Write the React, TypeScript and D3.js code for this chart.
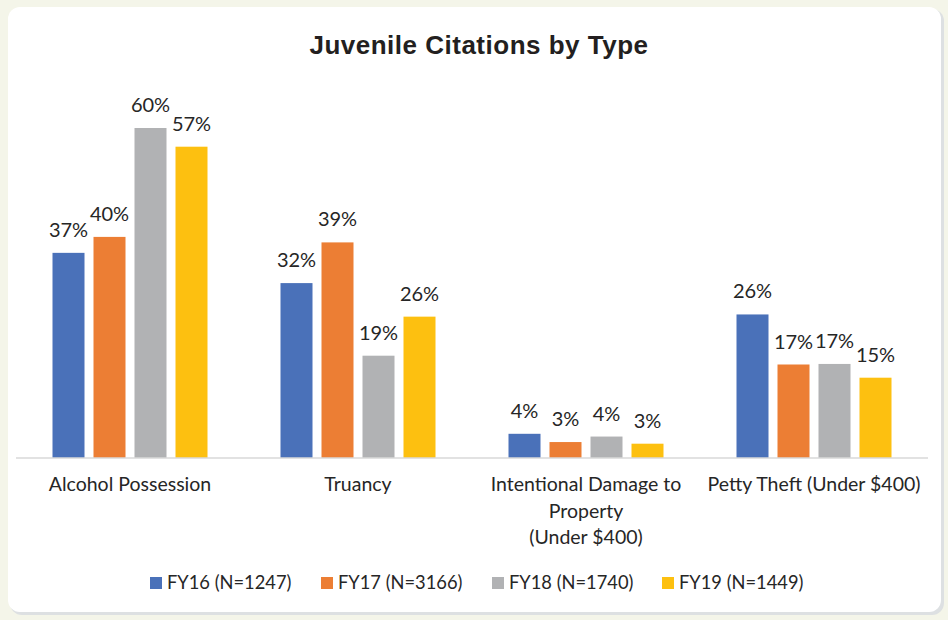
import React from "react";
import * as d3 from "d3";

const categories: string[][] = [
  ["Alcohol Possession"],
  ["Truancy"],
  ["Intentional Damage to", "Property", "(Under $400)"],
  ["Petty Theft (Under $400)"],
];
const seriesNames = ["FY16 (N=1247)", "FY17 (N=3166)", "FY18 (N=1740)", "FY19 (N=1449)"];
const seriesColors = ["#4a71b9", "#ec7e34", "#b1b2b4", "#fdc010"];
const fy16 = [37.3, 31.8, 4.4, 26.1];
const fy17 = [40.2, 39.2, 2.9, 17.0];
const fy18 = [60.0, 18.6, 3.9, 17.1];
const fy19 = [56.6, 25.7, 2.6, 14.6];
const seriesValues = [fy16, fy17, fy18, fy19];

const W = 948;
const H = 620;
const FONT = "Lato, 'Open Sans', sans-serif";

export default function App() {
  const x0 = d3.scaleBand<number>().domain(d3.range(categories.length)).range([16, 928]).padding(0);
  const y = d3.scaleLinear().domain([0, 70]).range([458, 73]);
  const groupW = 155;
  const x1 = d3
    .scaleBand<number>()
    .domain(d3.range(seriesNames.length))
    .range([0, groupW])
    .paddingInner(9 / 41)
    .paddingOuter(0);

  const legendX = [150, 321, 492, 662];

  return (
    <svg
      width={W}
      height={H}
      style={{ position: "absolute", left: 0, top: 0, display: "block" }}
      fontFamily={FONT}
    >
      <rect x={0} y={0} width={W} height={H} fill="#f4f5e9" />
      <rect x={10} y={9} width={934} height={606} rx={12} fill="#dde0e2" />
      <rect x={8} y={7} width={933} height={605} rx={12} fill="#ffffff" />

      <text
        x={479}
        y={53.5}
        textAnchor="middle"
        fontFamily="'Liberation Sans', Arial, sans-serif"
        fontWeight="bold"
        fontSize={26}
        letterSpacing={0.5}
        fill="#231f20"
      >
        Juvenile Citations by Type
      </text>

      {categories.map((cat, ci) => {
        const cx = (x0(ci) as number) + x0.bandwidth() / 2;
        const gx = cx - groupW / 2;
        return (
          <g key={ci}>
            {seriesValues.map((vals, si) => {
              const v = vals[ci];
              const bx = gx + (x1(si) as number);
              return (
                <g key={si}>
                  <rect
                    x={bx}
                    y={y(v)}
                    width={x1.bandwidth()}
                    height={y(0) - y(v)}
                    fill={seriesColors[si]}
                  />
                  <text
                    x={bx + x1.bandwidth() / 2}
                    y={y(v) - 16}
                    textAnchor="middle"
                    fontSize={20}
                    fill="#262626"
                  >
                    {Math.round(v)}%
                  </text>
                </g>
              );
            })}
            {cat.map((line, li) => (
              <text
                key={li}
                x={cx}
                y={491 + li * 26.5}
                textAnchor="middle"
                fontSize={19.5}
                fill="#262626"
              >
                {line}
              </text>
            ))}
          </g>
        );
      })}

      <line x1={16} x2={928} y1={458} y2={458} stroke="#d9d9d9" strokeWidth={1.5} />

      {seriesNames.map((name, si) => (
        <g key={si} transform={`translate(${legendX[si]},0)`}>
          <rect x={0} y={577} width={12} height={12} fill={seriesColors[si]} />
          <text x={17} y={588.5} fontSize={18.3} fill="#262626">
            {name}
          </text>
        </g>
      ))}
    </svg>
  );
}
